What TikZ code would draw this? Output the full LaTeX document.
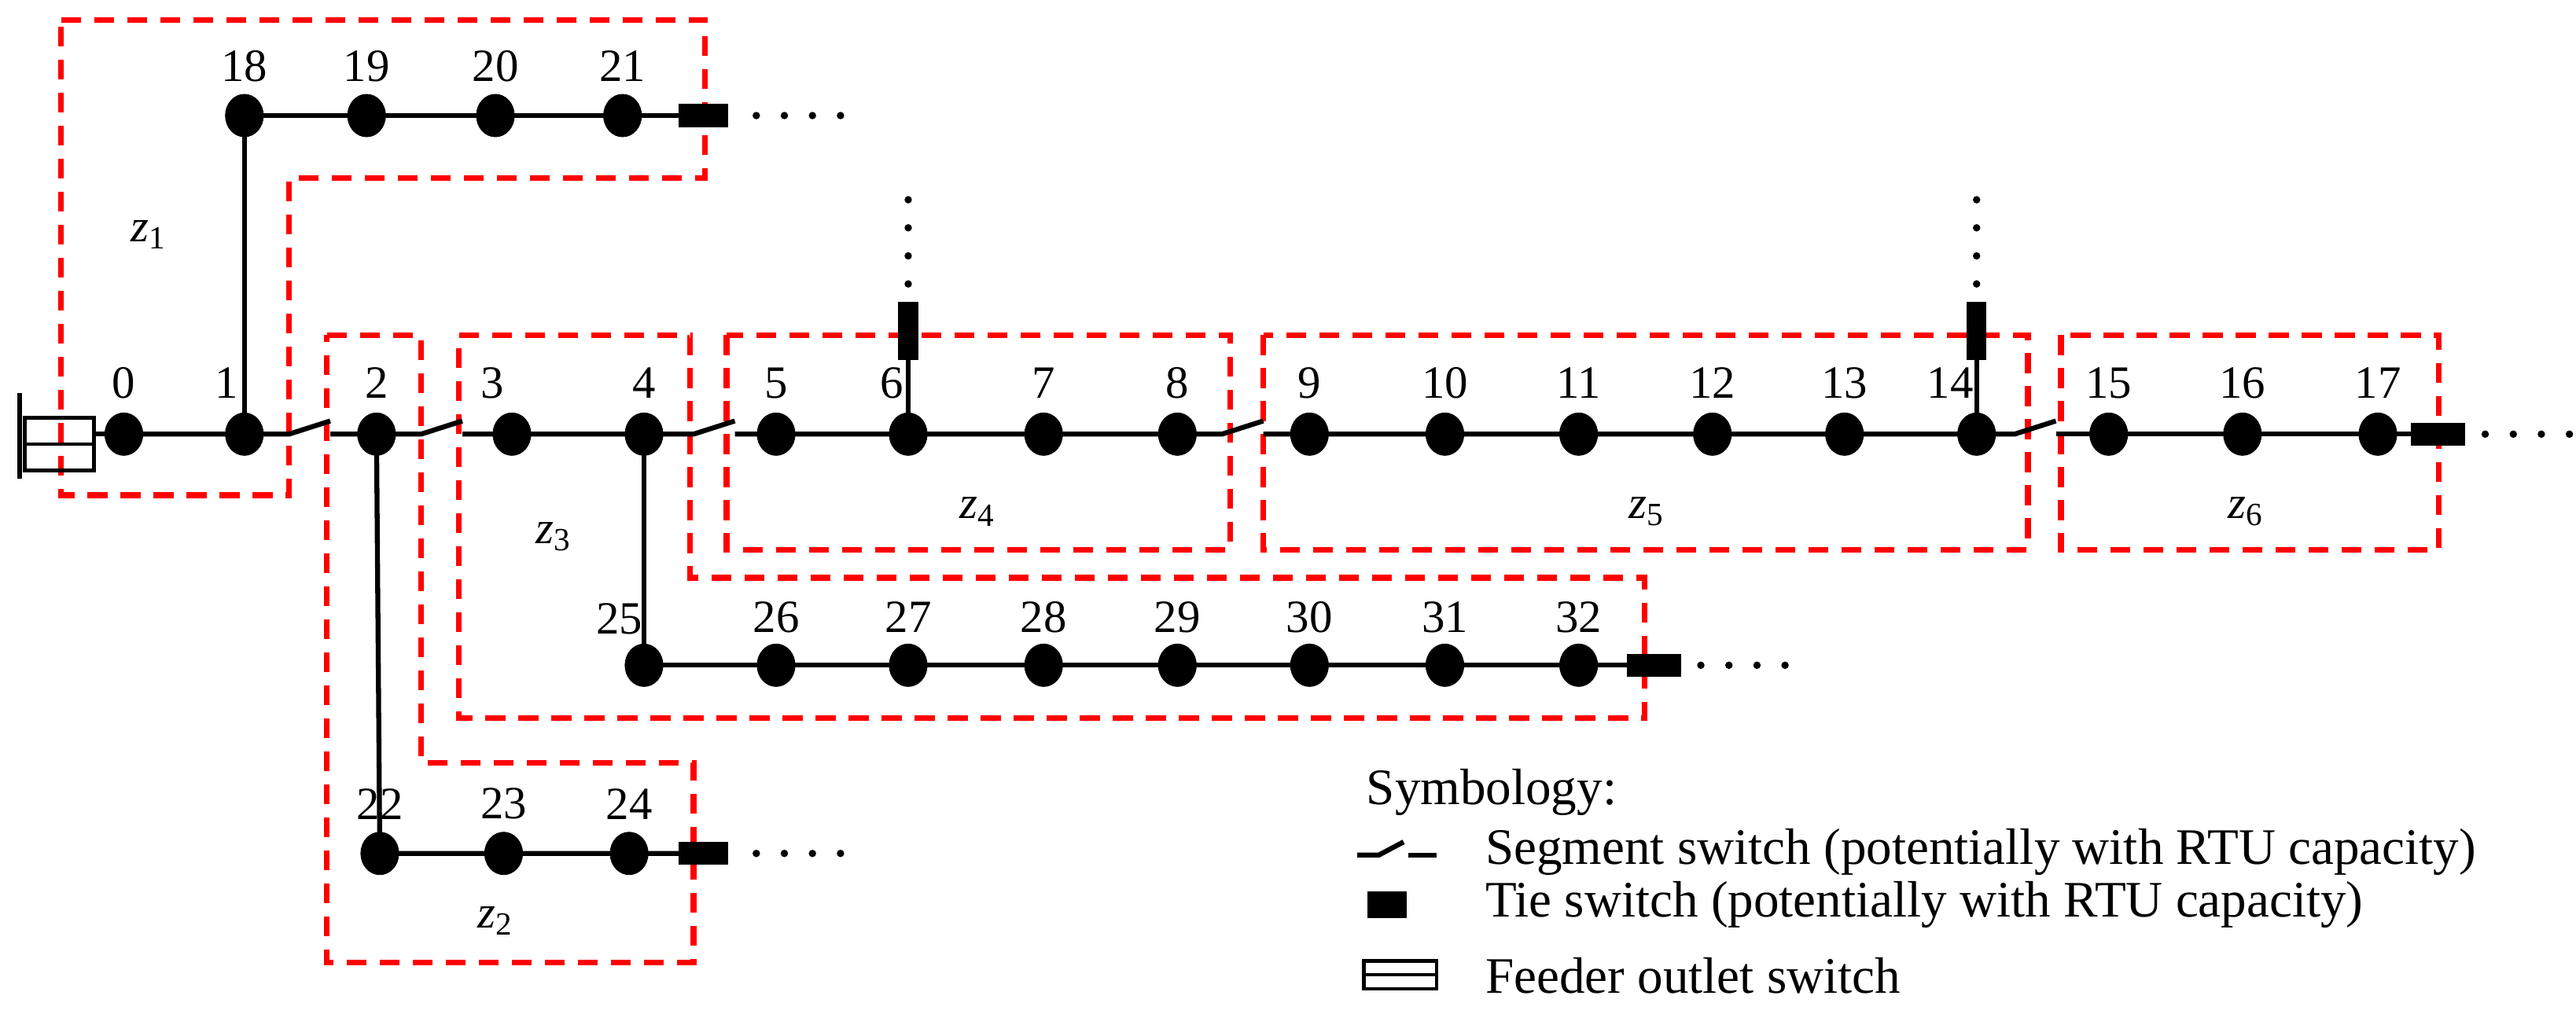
\documentclass[tikz,border=0pt]{standalone}
\usepackage{fontspec}
\setmainfont{Liberation Serif}
\begin{document}
\begin{tikzpicture}[x=1pt,y=-1pt,
  bus/.style={draw,fill=black,circle,minimum size=23pt,inner sep=0pt,yscale=1.12},
  line/.style={line width=3pt},
  zone/.style={red,line width=3.5pt,dash pattern=on 12pt off 8pt},
  lab/.style={font=\fontsize{28}{28}\selectfont},
  leg/.style={font=\fontsize{31}{31}\selectfont,anchor=west},
  tie/.style={fill=black},
  dots/.style={line width=4.5pt,line cap=round,dash pattern=on 0pt off 17pt}]
\useasboundingbox (0,0) rectangle (1560,614);
% zones
\draw[zone] (37,12)--(427,12)--(427,108)--(175,108)--(175,300)--(37,300)--cycle;
\draw[zone] (198,203)--(255,203)--(255,462)--(420,462)--(420,583)--(198,583)--cycle;
\draw[zone] (278,203)--(418,203)--(418,350)--(996,350)--(996,435)--(278,435)--cycle;
\draw[zone] (440,203) rectangle (745,333);
\draw[zone] (765,203) rectangle (1228,333);
\draw[zone] (1248,203) rectangle (1477,333);
\node[lab] (z1) at (90,142) {\textit{z}\textsubscript{1}};
\node[lab] (z2) at (300,558) {\textit{z}\textsubscript{2}};
\node[lab] (z3) at (335,325) {\textit{z}\textsubscript{3}};
\node[lab] (z4) at (592,310) {\textit{z}\textsubscript{4}};
\node[lab] (z5) at (997,310) {\textit{z}\textsubscript{5}};
\node[lab] (z6) at (1360,310) {\textit{z}\textsubscript{6}};
% main bus nodes
\foreach \n/\x/\lx in {0/75/75,1/148/137,2/228/228,3/310/298,4/390/390,5/470/470,6/550/540,7/632/632,8/713/713,9/793/793,10/875/875,11/956/956,12/1037/1037,13/1117/1117,14/1197/1181,15/1277/1277,16/1358/1358,17/1440/1440}{
  \coordinate (b\n) at (\x,263);
  \node[lab] (l\n) at (\lx,232) {\n};
}
\foreach \n/\x in {18/148,19/222,20/300,21/377}{
  \coordinate (b\n) at (\x,70);
  \node[lab] (l\n) at (\x,40) {\n};
}
\foreach \n/\x in {22/230,23/305,24/381}{
  \coordinate (b\n) at (\x,517);
  \node[lab] (l\n) at (\x,487) {\n};
}
\foreach \n/\x in {25/390,26/470,27/550,28/632,29/713,30/793,31/875,32/956}{
  \coordinate (b\n) at (\x,403);
}
\node[lab] (l25) at (375,375) {25};
\foreach \n/\x in {26/470,27/550,28/632,29/713,30/793,31/875,32/956}{
  \node[lab] (l\n) at (\x,374) {\n};
}
% switch coordinates
\coordinate (s1a) at (175,263); \coordinate (s1b) at (200,255);
\coordinate (s2a) at (255,263); \coordinate (s2b) at (280,255);
\coordinate (s3a) at (420,263); \coordinate (s3b) at (445,255);
\coordinate (s4a) at (740,263); \coordinate (s4b) at (765,255);
\coordinate (s5a) at (1220,263); \coordinate (s5b) at (1245,255);
% lines
\draw[line] (b0)--(b1)--(s1a)--(s1b);
\draw[line] (200,263)--(b2)--(s2a)--(s2b);
\draw[line] (280,263)--(b3)--(b4)--(s3a)--(s3b);
\draw[line] (445,263)--(b5)--(b6)--(b7)--(b8)--(s4a)--(s4b);
\draw[line] (765,263)--(b9)--(b10)--(b11)--(b12)--(b13)--(b14)--(s5a)--(s5b);
\draw[line] (1245,263)--(b15)--(b16)--(b17)--(1462,263);
\draw[line] (b1)--(b18)--(b19)--(b20)--(b21)--(412,70);
\draw[line] (b2)--(b22)--(b23)--(b24)--(412,517);
\draw[line] (b4)--(b25)--(b26)--(b27)--(b28)--(b29)--(b30)--(b31)--(b32)--(985,403);
\draw[line] (b6)--(550,200);
\draw[line] (b14)--(1197,200);
\foreach \n in {0,...,32}{\node[bus] (n\n) at (b\n) {};}
% tie switches
\fill[tie] (411,63) rectangle (441,77);
\fill[tie] (411,510) rectangle (441,524);
\fill[tie] (985,396) rectangle (1018,410);
\fill[tie] (1460,256) rectangle (1493,270);
\fill[tie] (544,183) rectangle (556,218);
\fill[tie] (1191,183) rectangle (1203,218);
% dots
\draw[dots] (458,70)--(510,70);
\draw[dots] (458,517)--(510,517);
\draw[dots] (1030,403)--(1082,403);
\draw[dots] (1505,263)--(1557,263);
\draw[dots] (550,172)--(550,120);
\draw[dots] (1197,172)--(1197,120);
% feeder outlet
\draw[line] (12,238)--(12,290);
\draw[line width=2.2pt] (15,253) rectangle (57,285);
\draw[line width=2.2pt] (15,269)--(57,269);
\draw[line] (57,263)--(n0);
% legend
\node[leg] (sym) at (824,480) {Symbology:};
\draw[line] (822,518)--(835,518)--(850,510);
\draw[line] (853,518)--(870,518);
\node[leg] (t1) at (896,516) {Segment switch (potentially with RTU capacity)};
\fill[tie] (828,540) rectangle (852,556);
\node[leg] (t2) at (896,548) {Tie switch (potentially with RTU capacity)};
\draw[line width=2.2pt] (826,582) rectangle (870,599);
\draw[line width=2.2pt] (826,590.5)--(870,590.5);
\node[leg] (t3) at (896,591) {Feeder outlet switch};
\end{tikzpicture}
\end{document}
